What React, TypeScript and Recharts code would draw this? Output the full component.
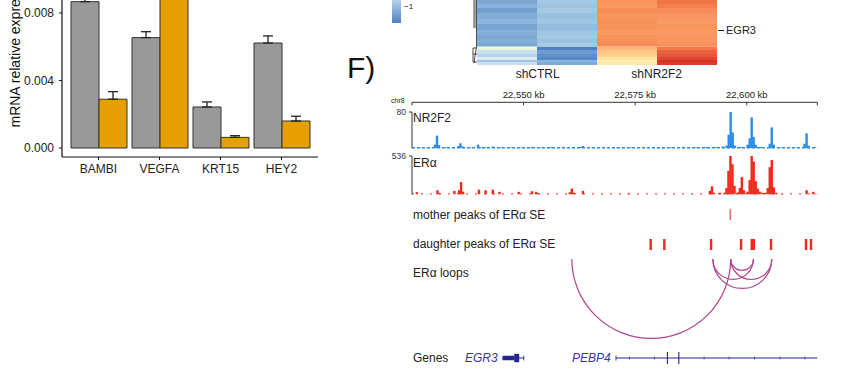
import React from 'react';
import { BarChart, Bar, XAxis, YAxis, ErrorBar, Cell, ReferenceArea, ReferenceLine, LineChart } from 'recharts';

// --- qPCR bars (panel E, cropped) ---
const genes = ['BAMBI', 'VEGFA', 'KRT15', 'HEY2'];
const ctrlValues = [0.00867, 0.00654, 0.00243, 0.00622];
const ctrlErrUp = [0.0003, 0.00035, 0.0003, 0.00042];
const kdValues = [0.00289, 0.0101, 0.00063, 0.0016];
const kdErrUp = [0.00045, 0.0004, 0.0001, 0.00028];
const qpcrTicks = [0, 0.004, 0.008, 0.012];

// --- heatmap (cropped) ---
const heatCols = ['shCTRL 1', 'shCTRL 2', 'shNR2F2 1', 'shNR2F2 2'];
const heatRowHeights = [4, 4, 5, 6, 5, 6, 5, 4, 4, 3.5, 3.5, 4, 3, 3, 2, 3];
const heatRowColors = [
  ['#7aa6d2', '#a3c8e3', '#f8945c', '#ef7446'],
  ['#88b2da', '#9cc3e1', '#f99a60', '#f47e4c'],
  ['#6f9ecf', '#a7cbe5', '#f68c56', '#f88c58'],
  ['#80acd6', '#98c0df', '#f9965e', '#f99560'],
  ['#8bb5dc', '#a0c6e2', '#f89059', '#f89a64'],
  ['#77a5d2', '#93bcdd', '#f7935b', '#f9945d'],
  ['#85afd8', '#9fc5e1', '#f99a61', '#f89862'],
  ['#7ba8d4', '#a4c9e4', '#f8935a', '#f99660'],
  ['#82aed7', '#9bc2e0', '#f79058', '#f9955f'],
  ['#7aa7d3', '#a8cbe5', '#f68a55', '#f9905a'],
  ['#eef5d6', '#4f80c2', '#fdb678', '#f4794a'],
  ['#c7def0', '#6d9dd0', '#fdc685', '#e9603c'],
  ['#b7d3eb', '#5f92cb', '#fdd08e', '#e5583a'],
  ['#dbeaf5', '#5688c6', '#fee4a0', '#dd4630'],
  ['#9ec4e2', '#8ab6dc', '#fff1b4', '#d73027'],
  ['#c9dff0', '#7eacd6', '#fee8a6', '#dc3e2c'],
];

// --- genome browser, chr8 (kb) ---
const kbDomain = [22525, 22615.8];
const rulerTicks = [22550, 22575, 22600];
const nr2f2Pos = [22526.8, 22528.4, 22530.15, 22530.6, 22531.05, 22532.5, 22535.4, 22535.85, 22536.3, 22538.0, 22539.8, 22540.25, 22541.5, 22543.1, 22545.0, 22547.3, 22549.5, 22551.9, 22554.0, 22556.3, 22558.8, 22561.0, 22562.85, 22563.3, 22565.5, 22568.0, 22571.0, 22574.0, 22577.0, 22580.0, 22583.0, 22586.0, 22588.6, 22591.0, 22593.0, 22594.6, 22595.5, 22595.95, 22596.4, 22596.85, 22597.3, 22598.6, 22600.2, 22600.65, 22601.1, 22601.55, 22602.0, 22603.2, 22605.15, 22605.6, 22606.05, 22607.8, 22609.5, 22611.3, 22612.95, 22613.4, 22613.85, 22615.2];
const nr2f2Val = [2, 1.5, 8, 28, 7, 2, 5, 11, 4, 2, 8, 3, 2, 4, 2, 2, 1.5, 3, 2, 3, 2, 1.5, 3, 5, 2, 1.5, 2, 2, 1.5, 2, 2, 1.5, 2, 3, 2.5, 4, 6, 30, 80, 35, 6, 3, 8, 22, 68, 25, 8, 3, 10, 46, 8, 2, 2, 2, 10, 33, 6, 2];
const eraPos = [22526.1, 22528.5, 22530.7, 22531.15, 22534.5, 22535.55, 22536.0, 22536.45, 22540.0, 22541.5, 22543.1, 22544.6, 22548.9, 22551.9, 22552.8, 22553.25, 22560.35, 22560.8, 22561.25, 22563.3, 22573.5, 22580, 22588, 22591.75, 22592.2, 22592.65, 22594.0, 22595.0, 22595.45, 22595.9, 22596.35, 22596.8, 22597.25, 22598.0, 22598.45, 22598.9, 22599.35, 22600.2, 22600.65, 22601.1, 22601.55, 22602.0, 22602.45, 22602.9, 22603.5, 22604.2, 22604.7, 22605.15, 22605.6, 22606.05, 22606.6, 22608, 22613.4, 22614.9, 22615.35];
const eraVal = [32, 8, 59, 20, 50, 60, 174, 40, 68, 59, 68, 37, 37, 46, 37, 20, 30, 82, 25, 50, 14, 6, 6, 50, 114, 25, 25, 25, 90, 330, 536, 420, 120, 30, 90, 242, 60, 40, 200, 536, 460, 187, 80, 40, 25, 25, 90, 380, 480, 100, 25, 6, 59, 37, 12];

const motherPeaks = [[22596.14, 22596.48]];
const daughterPeaks = [[22578.2, 22578.75], [22581.26, 22581.8], [22591.73, 22592.27], [22598.45, 22598.99], [22600.84, 22601.85], [22605.17, 22605.7], [22613.0, 22613.54], [22614.12, 22614.66]];
const loops = [[22560.8, 22596.4], [22592.4, 22605.6], [22592.4, 22601.5], [22596.4, 22605.6], [22596.4, 22601.5]];

// gene models: [start, end, half-height]
const geneParts = [
  [22545.28, 22550.14, 0.6],
  [22545.28, 22547.9, 2.2],
  [22547.9, 22549.02, 4.2],
  [22549.95, 22550.14, 2.5],
  [22570.74, 22615.8, 0.6],
  [22570.6, 22570.8, 2.5],
  [22582.1, 22582.35, 6],
  [22584.65, 22584.9, 6],
  [22573.65, 22573.8, 1.5],
  [22579.25, 22579.4, 1.5],
  [22590.35, 22590.5, 1.5],
  [22595.95, 22596.1, 1.5],
  [22601.65, 22601.8, 1.5],
  [22607.35, 22607.5, 1.5],
  [22612.95, 22613.1, 1.5],
];

const FONT = '"Liberation Sans", Arial, sans-serif';
const TRACK_MARGIN = { top: 0, right: 32.7, bottom: 0, left: 412 };

const Txt = ({ x, y, size = 12, children, style = {} }: any) => (
  <div style={{ position: 'absolute', left: x, top: y, transform: 'translateY(-50%)', fontSize: size, lineHeight: 1, whiteSpace: 'nowrap', color: '#222', ...style }}>
    {children}
  </div>
);

const FeatureRow = ({ top, height, domainY, children }: any) => (
  <div style={{ position: 'absolute', left: 0, top }}>
    <BarChart width={850} height={height} data={kbDomain.map((kb) => ({ kb }))} margin={TRACK_MARGIN}>
      <XAxis dataKey="kb" type="number" domain={kbDomain} hide allowDataOverflow />
      <YAxis type="number" domain={domainY} hide allowDataOverflow />
      {children}
    </BarChart>
  </div>
);

const RulerTick = ({ x, y, payload }: any) => {
  const labelled = rulerTicks.includes(payload.value);
  return (
    <g>
      <line x1={x} x2={x} y1={y} y2={y + 3} stroke="#333" />
      {labelled && (
        <text x={x} y={y - 4} textAnchor="middle" fontSize={9.5} fill="#222">
          {payload.value.toLocaleString('en-US')} kb
        </text>
      )}
    </g>
  );
};

// signal bins: drawn 2.4px wide around their centre so neighbouring bins merge into one peak
const spike = (color: string) => (p: any) =>
  p.height > 0 ? <rect x={p.x + p.width / 2 - 1.2} y={p.y} width={2.4} height={p.height} fill={color} /> : <g />;

export default function App() {
  const qpcrData = genes.map((g, i) => ({
    gene: g,
    ctrl: ctrlValues[i],
    ctrlErr: [0, ctrlErrUp[i]],
    kd: kdValues[i],
    kdErr: [0, kdErrUp[i]],
  }));
  const heatData = heatCols.map((c) => {
    const row: any = { col: c };
    heatRowHeights.forEach((h, i) => (row['r' + i] = h));
    return row;
  });
  const heatTotal = heatRowHeights.reduce((a, b) => a + b, 0);
  const nr2f2Data = nr2f2Pos.map((kb, i) => ({ kb, v: nr2f2Val[i] }));
  const eraData = eraPos.map((kb, i) => ({ kb, v: eraVal[i] }));
  const stackOrder = heatRowHeights.map((_, i) => i).reverse();

  const arc = (p: any) => {
    const r = p.width / 2;
    return <path d={`M${p.x},${p.y} A${r},${r} 0 0 0 ${p.x + p.width},${p.y}`} fill="none" stroke="#b0448e" strokeWidth={1.2} />;
  };

  return (
    <div style={{ position: 'absolute', left: 0, top: 0, width: 850, height: 376, overflow: 'hidden', background: '#fff', fontFamily: FONT }}>
      {/* qPCR bar chart */}
      <div style={{ position: 'absolute', left: 0, top: -70 }}>
        <BarChart width={330} height={250} data={qpcrData} margin={{ top: 7, right: 12, bottom: 0, left: 0 }} barCategoryGap={3} barGap={0}>
          <XAxis dataKey="gene" interval={0} padding={{ left: 6, right: 6 }} height={23} tickSize={3} tickMargin={4}
            tick={{ fill: '#222', fontSize: 12 }} axisLine={{ stroke: '#111', strokeWidth: 1.2 }} tickLine={{ stroke: '#111' }} />
          <YAxis type="number" domain={[-0.000533, 0.0125]} ticks={qpcrTicks} allowDataOverflow width={62} tickSize={3} tickMargin={5}
            tickFormatter={(v: number) => v.toFixed(3)} tick={{ fill: '#222', fontSize: 12 }}
            axisLine={{ stroke: '#111', strokeWidth: 1.2 }} tickLine={{ stroke: '#111' }}
            label={{ value: 'mRNA relative expression', angle: -90, position: 'insideLeft', offset: 15, style: { textAnchor: 'middle', fill: '#111', fontSize: 14 } }} />
          <Bar dataKey="ctrl" fill="#999999" stroke="#333" strokeWidth={1} isAnimationActive={false}>
            <ErrorBar dataKey="ctrlErr" width={5} stroke="#222" strokeWidth={1.3} direction="y" />
          </Bar>
          <Bar dataKey="kd" fill="#E69F00" stroke="#333" strokeWidth={1} isAnimationActive={false}>
            <ErrorBar dataKey="kdErr" width={5} stroke="#222" strokeWidth={1.3} direction="y" />
          </Bar>
        </BarChart>
      </div>

      {/* heatmap colour key */}
      <div style={{ position: 'absolute', left: 392, top: 0, width: 9, height: 23, background: 'linear-gradient(#b4d1ea, #4e82c1)' }} />
      <Txt x={404} y={7} size={8}>−1</Txt>

      {/* dendrogram */}
      <svg style={{ position: 'absolute', left: 468, top: 0 }} width={10} height={66}>
        <line x1={6.5} x2={6.5} y1={0} y2={28} stroke="#8a8a8a" strokeWidth={2.5} />
        <line x1={8.5} x2={8.5} y1={0} y2={46} stroke="#222" strokeWidth={0.8} />
        <line x1={8.5} x2={6} y1={46} y2={63} stroke="#222" strokeWidth={0.8} />
        <line x1={5} x2={10} y1={48} y2={48} stroke="#222" strokeWidth={0.8} />
        <line x1={5} x2={5} y1={48} y2={62} stroke="#222" strokeWidth={0.8} />
        <line x1={5} x2={10} y1={54} y2={54} stroke="#222" strokeWidth={0.8} />
        <line x1={5} x2={10} y1={62} y2={62} stroke="#222" strokeWidth={0.8} />
      </svg>

      {/* heatmap */}
      <div style={{ position: 'absolute', left: 477, top: 0 }}>
        <BarChart width={240} height={65} data={heatData} margin={{ top: 0, right: 0, bottom: 0, left: 0 }} barCategoryGap={0} barGap={0}>
          <XAxis dataKey="col" hide />
          <YAxis type="number" domain={[0, heatTotal]} hide />
          {stackOrder.map((i) => (
            <Bar key={i} dataKey={'r' + i} stackId="h" isAnimationActive={false}>
              {heatCols.map((c, j) => (
                <Cell key={c} fill={heatRowColors[i][j]} />
              ))}
            </Bar>
          ))}
        </BarChart>
      </div>
      <div style={{ position: 'absolute', left: 718, top: 30, width: 6, height: 1, background: '#222' }} />
      <Txt x={726} y={30} size={11}>EGR3</Txt>
      <Txt x={537.7} y={74} style={{ transform: 'translate(-50%, -50%)' }}>shCTRL</Txt>
      <Txt x={656.7} y={74} style={{ transform: 'translate(-50%, -50%)' }}>shNR2F2</Txt>

      <Txt x={347} y={68} size={30} style={{ color: '#111' }}>F)</Txt>

      {/* ruler */}
      <Txt x={391} y={100} size={7}>chr8</Txt>
      <div style={{ position: 'absolute', left: 0, top: 80 }}>
        <LineChart width={850} height={30} data={kbDomain.map((kb) => ({ kb }))} margin={{ top: 2.3, right: 32.7, bottom: 0, left: 412 }}>
          <XAxis dataKey="kb" type="number" orientation="top" domain={kbDomain} ticks={[kbDomain[0], ...rulerTicks, kbDomain[1]]}
            height={20} tickSize={0} tickMargin={0} tickLine={false} axisLine={{ stroke: '#333' }} tick={<RulerTick />} />
          <YAxis hide />
        </LineChart>
      </div>

      {/* NR2F2 track */}
      <div style={{ position: 'absolute', left: 0, top: 100 }}>
        <BarChart width={850} height={52} data={nr2f2Data} margin={{ top: 12, right: 32.7, bottom: 3.7, left: 382 }}>
          <XAxis dataKey="kb" type="number" domain={kbDomain} hide allowDataOverflow />
          <YAxis type="number" domain={[0, 80]} ticks={[0, 80]} allowDataOverflow width={30} tickSize={3} tickMargin={3}
            tick={{ fill: '#333', fontSize: 8.5 }} axisLine={{ stroke: '#333' }} tickLine={{ stroke: '#333' }} />
          <ReferenceLine y={1.2} stroke="#2b8ce6" strokeWidth={1.4} strokeDasharray="3 2" />
          <Bar dataKey="v" fill="#2b8ce6" barSize={2} isAnimationActive={false} shape={spike('#2b8ce6')} />
        </BarChart>
      </div>
      <Txt x={413} y={118}>NR2F2</Txt>

      {/* ERa track */}
      <div style={{ position: 'absolute', left: 0, top: 144 }}>
        <BarChart width={850} height={54} data={eraData} margin={{ top: 12, right: 32.7, bottom: 3.5, left: 382 }}>
          <XAxis dataKey="kb" type="number" domain={kbDomain} hide allowDataOverflow />
          <YAxis type="number" domain={[0, 536]} ticks={[0, 536]} allowDataOverflow width={30} tickSize={3} tickMargin={3}
            tick={{ fill: '#333', fontSize: 8.5 }} axisLine={{ stroke: '#333' }} tickLine={{ stroke: '#333' }} />
          <ReferenceLine y={8} stroke="#f2281c" strokeWidth={1} strokeDasharray="2 7" />
          <Bar dataKey="v" fill="#f2281c" barSize={2} isAnimationActive={false} shape={spike('#f2281c')} />
        </BarChart>
      </div>
      <Txt x={413} y={163}>ERα</Txt>

      {/* peak calls */}
      <Txt x={413} y={215}>mother peaks of ERα SE</Txt>
      <FeatureRow top={209} height={11} domainY={[0, 1]}>
        {motherPeaks.map(([a, b], i) => (
          <ReferenceArea key={i} x1={a} x2={b} y1={0} y2={1} fill="#f06a64" fillOpacity={1} />
        ))}
      </FeatureRow>
      <Txt x={413} y={244}>daughter peaks of ERα SE</Txt>
      <FeatureRow top={239} height={11} domainY={[0, 1]}>
        {daughterPeaks.map(([a, b], i) => (
          <ReferenceArea key={i} x1={a} x2={b} y1={0} y2={1} fill="#ee2a1e" fillOpacity={1} />
        ))}
      </FeatureRow>

      {/* loops */}
      <Txt x={413} y={273}>ERα loops</Txt>
      <FeatureRow top={259} height={86} domainY={[0, 1]}>
        {loops.map(([a, b], i) => (
          <ReferenceArea key={i} x1={a} x2={b} y1={0} y2={1} shape={arc} />
        ))}
      </FeatureRow>

      {/* genes */}
      <Txt x={413} y={358}>Genes</Txt>
      <Txt x={465} y={358} style={{ fontStyle: 'italic', color: '#3535a5' }}>EGR3</Txt>
      <Txt x={572} y={358} style={{ fontStyle: 'italic', color: '#3535a5' }}>PEBP4</Txt>
      <FeatureRow top={351} height={14} domainY={[-7, 7]}>
        {geneParts.map(([a, b, h], i) => (
          <ReferenceArea key={i} x1={a} x2={b} y1={-h} y2={h} fill="#25258f" fillOpacity={1} ifOverflow="visible" />
        ))}
      </FeatureRow>
    </div>
  );
}
